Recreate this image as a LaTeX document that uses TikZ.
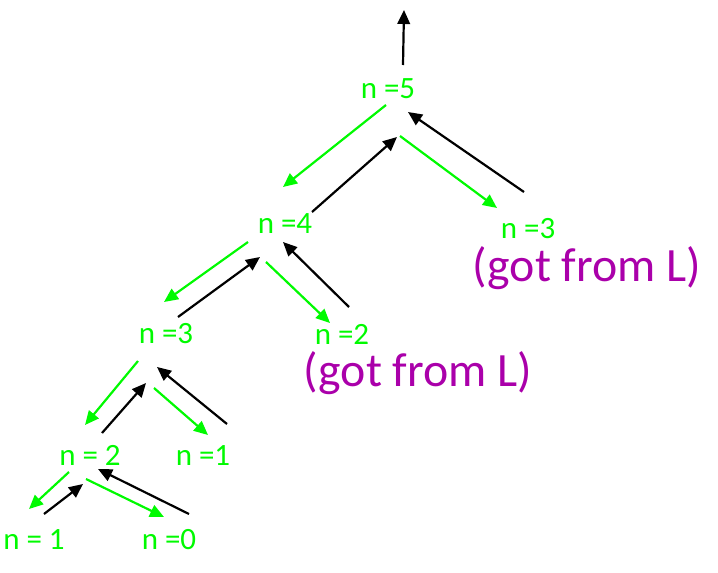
\documentclass[tikz,border=0pt]{standalone}
\usepackage{fontspec}
\setmainfont{Carlito}
\usepackage{xcolor}
\usetikzlibrary{arrows.meta}
\definecolor{lgreen}{RGB}{0,250,0}
\definecolor{lpurple}{RGB}{170,0,170}

\begin{document}
\begin{tikzpicture}[x=1pt, y=-1pt,
		lbl/.style={lgreen, anchor=base, inner sep=0pt, font=\fontsize{31}{36}\selectfont},
		got/.style={lpurple, anchor=base, inner sep=0pt, font=\fontsize{47.8}{56}\selectfont},
		call/.style={lgreen, line width=2.2pt, -{Triangle[length=14pt, width=12.5pt]}},
		ret/.style={black, line width=2.2pt, -{Triangle[length=14pt, width=12.5pt]}}]
		\useasboundingbox (0,0) rectangle (718,573);
		\node[lbl] (n5) at (388,98) {n =5};
		\node[lbl] (n4) at (285,233) {n =4};
		\node[lbl] (n3r) at (528,238) {n =3};
		\node[got] (gr) at (587,281) {(got from L)};
		\node[lbl] (n3l) at (166,343) {n =3};
		\node[lbl] (n2r) at (342,344) {n =2};
		\node[got] (gm) at (418,386) {(got from L)};
		\node[lbl] (n2l) at (90,465) {n = 2};
		\node[lbl] (n1r) at (203,465) {n =1};
		\node[lbl] (n1b) at (34,549) {n = 1};
		\node[lbl] (n0) at (169,549) {n =0};
		\coordinate (top) at (404,10);
		
		\draw[ret] ([shift={(15,-33)}]n5.base) -- (top);
		
		\draw[call] ([shift={(-2,7)}]n5.base) -- ([shift={(-2,-46)}]n4.base);
		\draw[ret] ([shift={(27,-21)}]n4.base) -- ([shift={(9,39)}]n5.base);
		\draw[call] ([shift={(12,38)}]n5.base) -- ([shift={(-31,-30)}]n3r.base);
		\draw[ret] ([shift={(-4,-46)}]n3r.base) -- ([shift={(20,14)}]n5.base);
		
		\draw[call] ([shift={(-37,9)}]n4.base) -- ([shift={(-2,-41)}]n3l.base);
		\draw[ret] ([shift={(12,-26)}]n3l.base) -- ([shift={(-25,24)}]n4.base);
		\draw[call] ([shift={(-19,29)}]n4.base) -- ([shift={(-12,-21)}]n2r.base);
		\draw[ret] ([shift={(7,-37)}]n2r.base) -- ([shift={(-2,9)}]n4.base);
		
		\draw[call] ([shift={(-28,18)}]n3l.base) -- ([shift={(-5,-40)}]n2l.base);
		\draw[ret] ([shift={(12,-32)}]n2l.base) -- ([shift={(-20,40)}]n3l.base);
		\draw[call] ([shift={(-12,45)}]n3l.base) -- ([shift={(5,-30)}]n1r.base);
		\draw[ret] ([shift={(24,-41)}]n1r.base) -- ([shift={(-9,24)}]n3l.base);
		
		\draw[call] ([shift={(-21,7)}]n2l.base) -- ([shift={(-5,-40)}]n1b.base);
		\draw[ret] ([shift={(10,-35)}]n1b.base) -- ([shift={(-7,19)}]n2l.base);
		\draw[call] ([shift={(-4,14)}]n2l.base) -- ([shift={(-5,-32)}]n0.base);
		\draw[ret] ([shift={(20,-35)}]n0.base) -- ([shift={(8,4)}]n2l.base);
		
	\end{tikzpicture}
\end{document}
